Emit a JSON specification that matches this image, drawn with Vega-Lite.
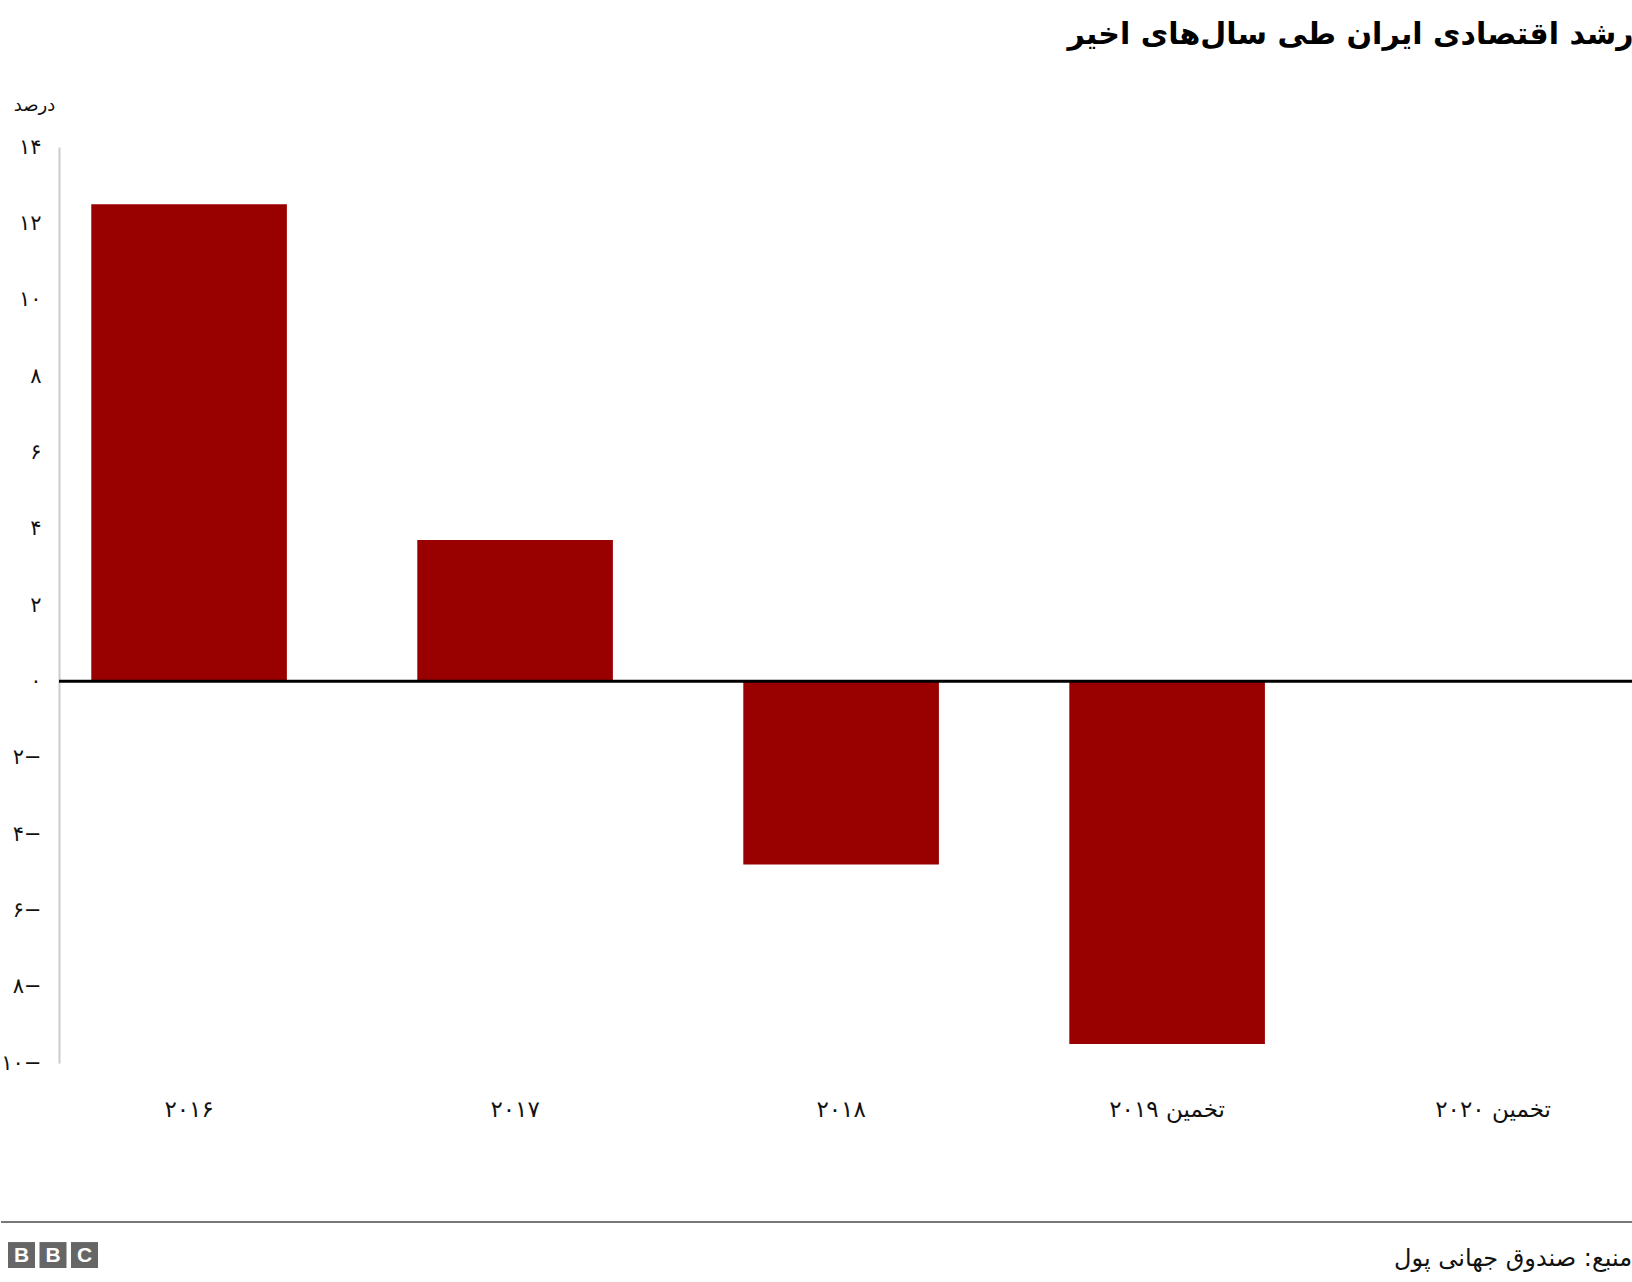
{
  "$schema": "https://vega.github.io/schema/vega-lite/v6.json",
  "background": "white",
  "padding": {"left": 0, "right": 0, "top": 20, "bottom": 0},
  "title": {
    "text": "رشد اقتصادی ایران طی سال‌های اخیر",
    "anchor": "end",
    "font": "DejaVu Sans",
    "fontSize": 30,
    "fontWeight": "bold",
    "color": "#000000",
    "offset": 46
  },
  "vconcat": [
    {
      "width": 1573,
      "height": 916,
      "data": {
        "values": [
          {"year": "۲۰۱۶", "growth": 12.5},
          {"year": "۲۰۱۷", "growth": 3.7},
          {"year": "۲۰۱۸", "growth": -4.8},
          {"year": "تخمین ۲۰۱۹", "growth": -9.5},
          {"year": "تخمین ۲۰۲۰", "growth": 0}
        ]
      },
      "layer": [
        {
          "mark": {"type": "bar", "color": "#990000"},
          "encoding": {
            "x": {
              "field": "year",
              "type": "nominal",
              "sort": null,
              "scale": {"paddingInner": 0.4, "paddingOuter": 0.1125, "align": 0.44},
              "axis": {
                "title": null,
                "domain": false,
                "ticks": false,
                "tickSize": 0,
                "labelAngle": 0,
                "labelPadding": 35,
                "labelFont": "DejaVu Sans",
                "labelFontSize": 23,
                "labelColor": "#111111"
              }
            },
            "y": {
              "field": "growth",
              "type": "quantitative",
              "scale": {"domain": [-10, 14], "nice": false},
              "axis": {
                "title": "درصد",
                "titleAngle": 0,
                "titleAlign": "center",
                "titleBaseline": "middle",
                "titleX": -25,
                "titleY": -42,
                "titleFont": "DejaVu Sans",
                "titleFontSize": 18,
                "titleFontWeight": "normal",
                "titleColor": "#111111",
                "values": [-10, -8, -6, -4, -2, 0, 2, 4, 6, 8, 10, 12, 14],
                "grid": false,
                "ticks": false,
                "tickSize": 0,
                "domainColor": "#cccccc",
                "domainWidth": 2,
                "labelPadding": 18,
                "minExtent": 59,
                "maxExtent": 59,
                "labelFont": "DejaVu Sans",
                "labelFontSize": 21,
                "labelColor": "#111111",
                "labelExpr": "replace(replace(replace(replace(replace(replace(replace(replace(replace(replace(toString(abs(datum.value)), regexp('0','g'), '۰'), regexp('1','g'), '۱'), regexp('2','g'), '۲'), regexp('3','g'), '۳'), regexp('4','g'), '۴'), regexp('5','g'), '۵'), regexp('6','g'), '۶'), regexp('7','g'), '۷'), regexp('8','g'), '۸'), regexp('9','g'), '۹') + (datum.value < 0 ? '−' : '')"
              }
            }
          }
        },
        {
          "data": {"values": [{"baseline": 0}]},
          "mark": {"type": "rule", "color": "#000000", "strokeWidth": 3},
          "encoding": {
            "y": {"field": "baseline", "type": "quantitative"}
          }
        }
      ]
    },
    {
      "width": 1573,
      "height": 59,
      "layer": [
        {
          "data": {"values": [{"from": 0, "to": 1, "edge": 1}]},
          "mark": {"type": "rule", "color": "#777777", "strokeWidth": 2},
          "encoding": {
            "x": {"field": "from", "type": "quantitative", "scale": {"domain": [0, 1], "range": [-58, 1573]}, "axis": null},
            "x2": {"field": "to"},
            "y": {"field": "edge", "type": "quantitative", "scale": {"domain": [0, 1]}, "axis": null}
          }
        },
        {
          "data": {"values": [{"source": "منبع: صندوق جهانی پول", "pos": 1, "level": 0.37}]},
          "mark": {"type": "text", "align": "right", "baseline": "middle", "font": "DejaVu Sans", "fontSize": 24, "color": "#111111"},
          "encoding": {
            "x": {"field": "pos", "type": "quantitative", "scale": {"domain": [0, 1]}, "axis": null},
            "y": {"field": "level", "type": "quantitative", "axis": null},
            "text": {"field": "source"}
          }
        },
        {
          "data": {"values": [{"k": "b1", "letter": "B", "top": 0.66, "bottom": 0.22, "mid": 0.44}, {"k": "b2", "letter": "B", "top": 0.66, "bottom": 0.22, "mid": 0.44}, {"k": "c", "letter": "C", "top": 0.66, "bottom": 0.22, "mid": 0.44}]},
          "layer": [
            {
              "mark": {"type": "rect", "color": "#666666"},
              "encoding": {
                "x": {"field": "k", "type": "nominal", "sort": null, "scale": {"range": [-51, 39], "paddingInner": 0.143, "paddingOuter": 0}, "axis": null},
                "y": {"field": "top", "type": "quantitative", "axis": null},
                "y2": {"field": "bottom"}
              }
            },
            {
              "mark": {"type": "text", "color": "white", "font": "Liberation Sans", "fontWeight": "bold", "fontSize": 21, "baseline": "middle", "dy": 1},
              "encoding": {
                "x": {"field": "k", "type": "nominal", "sort": null, "axis": null},
                "y": {"field": "mid", "type": "quantitative", "axis": null},
                "text": {"field": "letter"}
              }
            }
          ]
        }
      ],
      "resolve": {"scale": {"x": "independent"}}
    }
  ],
  "spacing": 100,
  "config": {
    "view": {"stroke": null},
    "font": "DejaVu Sans"
  }
}
